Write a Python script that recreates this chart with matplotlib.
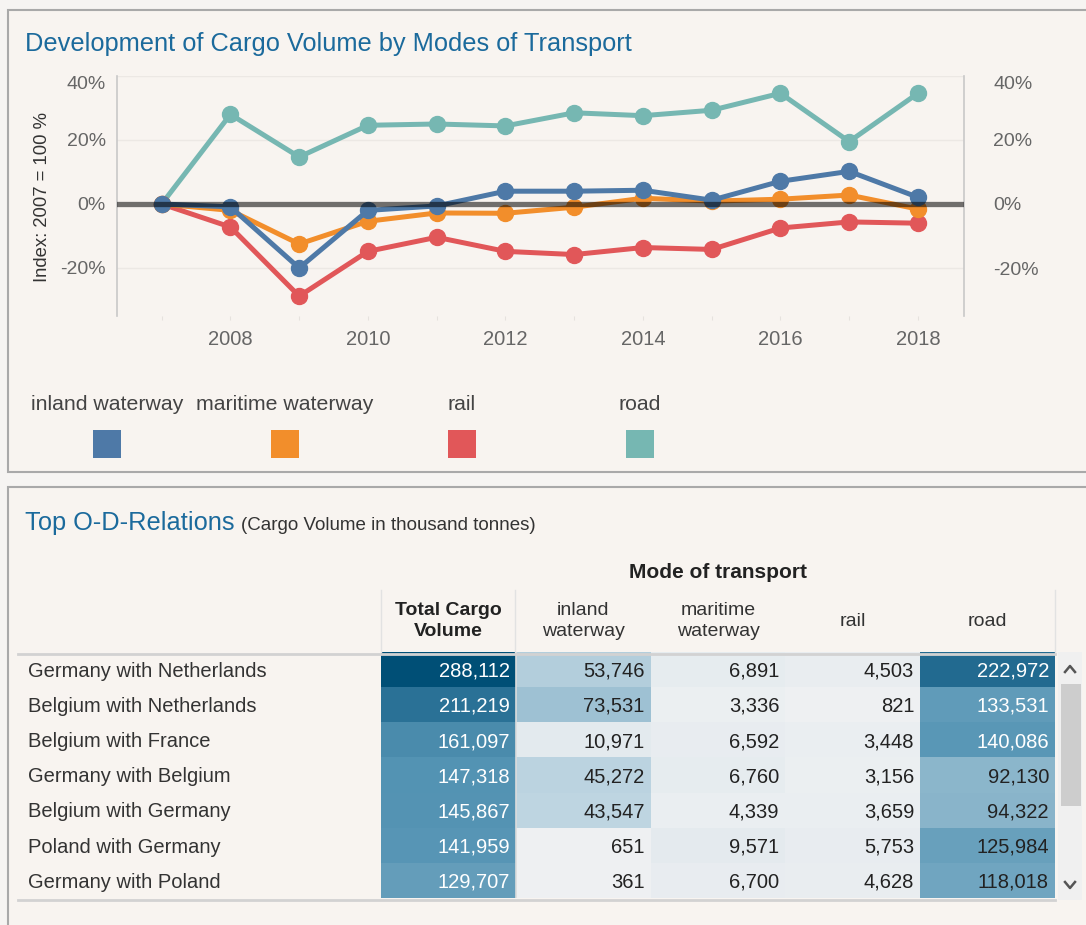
import numpy as np
import matplotlib
matplotlib.use("Agg")
import matplotlib.pyplot as plt
from matplotlib.patches import Rectangle
from matplotlib.lines import Line2D
from matplotlib.colors import LinearSegmentedColormap, Normalize
from matplotlib.transforms import blended_transform_factory

plt.rcParams['font.family'] = ['Liberation Sans', 'DejaVu Sans']

# ---- data: development index (2007 = 100 %), change in %
years = [2007, 2008, 2009, 2010, 2011, 2012, 2013, 2014, 2015, 2016, 2017, 2018]
inland_waterway = [0, -0.9, -20.0, -2.0, -0.6, 4.0, 4.0, 4.3, 1.2, 7.1, 10.2, 2.1]
maritime_waterway = [0, -2.0, -12.5, -5.4, -2.8, -2.9, -1.0, 1.8, 0.9, 1.5, 2.8, -1.6]
rail = [0, -7.2, -28.8, -14.8, -10.4, -14.8, -15.8, -13.6, -14.2, -7.5, -5.6, -6.0]
road = [0, 28.0, 14.7, 24.6, 25.0, 24.4, 28.5, 27.6, 29.3, 34.6, 19.5, 34.6]

modes = ['inland waterway', 'maritime waterway', 'rail', 'road']
mode_colors = ['#4e79a7', '#f28e2b', '#e15759', '#76b7b2']

# ---- data: top O-D relations (thousand tonnes)
relations = ['Germany with Netherlands', 'Belgium with Netherlands', 'Belgium with France',
             'Germany with Belgium', 'Belgium with Germany', 'Poland with Germany',
             'Germany with Poland']
total = [288112, 211219, 161097, 147318, 145867, 141959, 129707]
tab_inland = [53746, 73531, 10971, 45272, 43547, 651, 361]
tab_maritime = [6891, 3336, 6592, 6760, 4339, 9571, 6700]
tab_rail = [4503, 821, 3448, 3156, 3659, 5753, 4628]
tab_road = [222972, 133531, 140086, 92130, 94322, 125984, 118018]
col_headers = ['Total Cargo\nVolume', 'inland\nwaterway', 'maritime\nwaterway', 'rail', 'road']

W, H = 1086, 925
fig = plt.figure(figsize=(W / 100, H / 100), dpi=100, facecolor='#f6f4f2')


def fx(x):
    return x / W


def fy(y):
    return 1 - y / H


def box(x0, y0, x1, y1):
    return [fx(x0), fy(y1), (x1 - x0) / W, (y1 - y0) / H]


panel_bg = '#f8f4f0'
for (x0, y0, x1, y1) in [(8, 10, 1100, 472), (8, 487, 1100, 940)]:
    fig.patches.append(Rectangle((fx(x0), fy(y1)), (x1 - x0) / W, (y1 - y0) / H,
                                 transform=fig.transFigure, facecolor=panel_bg,
                                 edgecolor='#a9a9a9', linewidth=1.5, zorder=-5))

title_color = '#1b6a9c'
fig.text(fx(25), fy(44), 'Development of Cargo Volume by Modes of Transport',
         fontsize=18.3, color=title_color, va='center', ha='left')

# ---- line chart
ax = fig.add_axes(box(117, 76, 964, 316))
ax.set_facecolor(panel_bg)
series = [road, rail, maritime_waterway, inland_waterway]
colors = [mode_colors[3], mode_colors[2], mode_colors[1], mode_colors[0]]
for z, (vals, c) in enumerate(zip(series, colors)):
    ax.plot(years, vals, color=c, lw=3.6, marker='o', ms=11.5, zorder=3 + z)
ax.axhline(0, color='black', alpha=0.55, lw=3.8, zorder=10)
for g in [-20, 20, 40]:
    ax.axhline(g, color='#ece8e4', lw=1, zorder=1)

ax.set_xlim(2006.35, 2018.67)
ax.set_ylim(-35, 40)
ax.set_xticks(range(2007, 2019))
ax.set_xticklabels(['' if y % 2 else str(y) for y in range(2007, 2019)])
ytick_vals = [-20, 0, 20, 40]
ytick_lbls = ['-20%', '0%', '20%', '40%']
ax.set_yticks(ytick_vals, labels=ytick_lbls)
ax.tick_params(axis='x', length=3, color='#e6e2de', labelsize=14.5, labelcolor='#666666', pad=7)
ax.tick_params(axis='y', length=0, labelsize=14, labelcolor='#666666', pad=8)
for s in ['top', 'bottom']:
    ax.spines[s].set_visible(False)
for s in ['left', 'right']:
    ax.spines[s].set_color('#c8c8c8')
    ax.spines[s].set_linewidth(1.2)

ax2 = ax.twinx()
ax2.set_ylim(ax.get_ylim())
ax2.set_yticks(ytick_vals, labels=ytick_lbls)
ax2.tick_params(axis='y', length=0, labelsize=14, labelcolor='#666666', pad=21)
for s in ['top', 'bottom', 'left', 'right']:
    ax2.spines[s].set_visible(False)
for lbl in ax.get_yticklabels() + ax2.get_yticklabels():
    if lbl.get_text() == '40%':
        lbl.set_va('top')

ax.set_ylabel('Index: 2007 = 100 %', fontsize=13.3, color='#333333')
ax.yaxis.set_label_coords(-0.078, 0.494)

# ---- legend
leg_x = [107, 285, 462, 640]
for lx, name, c in zip(leg_x, modes, mode_colors):
    fig.text(fx(lx), fy(404), name, fontsize=15.3, color='#444444', ha='center', va='center')
    fig.patches.append(Rectangle((fx(lx - 14), fy(458)), 28 / W, 28 / H,
                                 transform=fig.transFigure, facecolor=c, edgecolor='none'))

# ---- table
fig.text(fx(25), fy(523), 'Top O-D-Relations', fontsize=18.3, color=title_color,
         va='center', ha='left')
fig.text(fx(241), fy(525), '(Cargo Volume in thousand tonnes)', fontsize=13.5,
         color='#333333', va='center', ha='left')

values = np.array([total, tab_inland, tab_maritime, tab_rail, tab_road]).T
cmap = LinearSegmentedColormap.from_list(
    'od', [(0, '#eef0f2'), (0.18, '#b4cfdd'), (0.5, '#5594b4'), (0.77, '#236b91'), (1, '#004f76')])
norm = Normalize(0, max(total))

axt = fig.add_axes(box(381, 652, 1055, 898))
axt.pcolormesh(np.arange(values.shape[1] + 1), np.arange(values.shape[0] + 1), values,
               cmap=cmap, norm=norm)
axt.set_xlim(0, values.shape[1])
axt.set_ylim(values.shape[0], 0)
axt.axis('off')
axt.axvline(1, color='#dcdcdc', lw=1.2)

row_tr = blended_transform_factory(fig.transFigure, axt.transData)
for i, name in enumerate(relations):
    axt.text(fx(28), i + 0.55, name, transform=row_tr, fontsize=14.5, color='#333333',
             ha='left', va='center')
    for j in range(values.shape[1]):
        v = values[i, j]
        axt.text(j + 1 - 0.045, i + 0.55, f'{v:,}', fontsize=14.5, ha='right', va='center',
                 color='white' if v > 128000 else '#222222')

for j, h in enumerate(col_headers):
    axt.text(j + 0.5, -0.88, h, fontsize=14, ha='center', va='center', clip_on=False,
             color='#333333' if j else '#222222', fontweight='bold' if j == 0 else 'normal',
             linespacing=1.35)
axt.text(2.5, -2.27, 'Mode of transport', fontsize=15, fontweight='bold', ha='center',
         va='center', color='#222222', clip_on=False)

for yy in [654, 900]:
    fig.add_artist(Line2D([fx(18), fx(1055)], [fy(yy), fy(yy)], transform=fig.transFigure,
                          color='#d2d2d2', lw=2))
for xx in [381, 515, 1055]:
    fig.add_artist(Line2D([fx(xx), fx(xx)], [fy(590), fy(652)], transform=fig.transFigure,
                          color='#e2e2e2', lw=1))

# scrollbar
fig.patches.append(Rectangle((fx(1058), fy(900)), 24 / W, 248 / H, transform=fig.transFigure,
                             facecolor='#f0f0f0', edgecolor='none'))
fig.patches.append(Rectangle((fx(1061), fy(806)), 20 / W, 122 / H, transform=fig.transFigure,
                             facecolor='#cdcdcd', edgecolor='none'))
fig.add_artist(Line2D([fx(1065), fx(1070), fx(1075)], [fy(672), fy(666), fy(672)],
                      transform=fig.transFigure, color='#555555', lw=1.8))
fig.add_artist(Line2D([fx(1065), fx(1070), fx(1075)], [fy(882), fy(888), fy(882)],
                      transform=fig.transFigure, color='#555555', lw=1.8))

fig.savefig('out.png', dpi=100, facecolor=fig.get_facecolor())
